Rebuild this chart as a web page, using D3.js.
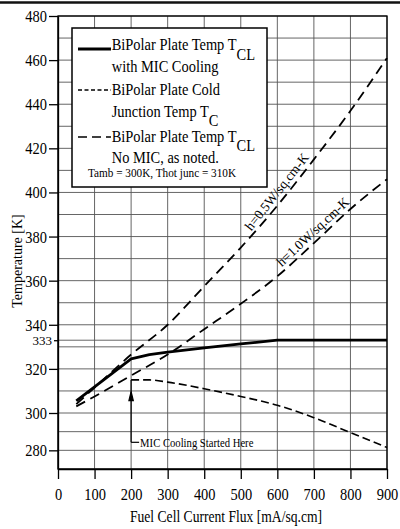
<!DOCTYPE html>
<html>
<head>
<meta charset="utf-8">
<script src="https://cdn.jsdelivr.net/npm/d3@7"></script>
<style>
  body { margin: 0; background: #fff; }
  svg, svg text { font-family: "Liberation Serif", "Times New Roman", serif; }
  svg { display: block; }
  .grid line { stroke: #555; stroke-width: 0.9; }
  .axis path, .axis line { stroke: #000; stroke-width: 1.3; }
  .axis text { fill: #000; }
</style>
</head>
<body>
<svg id="chart" width="400" height="529"></svg>
<script>
// data
var fluxWithMic = [50, 100, 150, 200, 250, 300, 400, 500, 600, 700, 800, 900];
var tclWithMic  = [305.5, 311.8, 318.2, 324.5, 326.5, 327.6, 329.5, 331.3, 333, 333, 333, 333];

var fluxCold = [200, 250, 300, 400, 500, 600, 700, 800, 900];
var tcCold   = [315, 315, 314, 311, 307.5, 303.5, 297.5, 289.5, 281.5];

var fluxNoMic = [50, 100, 200, 300, 400, 500, 600, 700, 800, 900];
var tclH05    = [304, 311.5, 326.5, 340, 357.5, 375, 394, 415, 437, 461];
var tclH10    = [303, 307.5, 317, 326.5, 338, 349.5, 362, 377, 392.5, 406];

var xTicks = [0, 100, 200, 300, 400, 500, 600, 700, 800, 900];
var yTicks = [280, 300, 320, 340, 360, 380, 400, 420, 440, 460, 480];
var yMarked = 333;

var legendText = [
    ["BiPolar Plate Temp T", "CL", "with MIC Cooling"],
    ["BiPolar Plate Cold", "", "Junction Temp T", "C"],
    ["BiPolar Plate Temp T", "CL", "No MIC, as noted."]
];
var legendNote = "Tamb = 300K, Thot junc = 310K";
var hLabels = ["h=0.5W/sq.cm-K", "h=1.0W/sq.cm-K"];
var hLabelFlux = [618, 714];
var annotText = "MIC Cooling Started Here";
var annotFlux = 200, annotTop = 315, annotArrow = 307, annotBottom = 284.3;

var FONT = "Liberation Serif, Times New Roman, serif";
var svg = d3.select("svg#chart");

var x = d3.scaleLinear().domain([0, 900]).range([58, 387]);
// the scanned axis is a little squeezed below 300 K
var y = d3.scaleLinear().domain([270, 300, 480]).range([469, 413, 16]);

var SX = 0.85;

// page border line at the top of the scan
svg.append("line")
    .attr("x1", 0).attr("x2", 400).attr("y1", 2.5).attr("y2", 2.5)
    .attr("stroke", "#111").attr("stroke-width", 2.5);

// grid
var grid = svg.append("g").attr("class", "grid");
grid.selectAll("line.h")
    .data(d3.range(270, 481, 10).concat([yMarked]))
    .enter().append("line")
    .attr("class", "h")
    .attr("x1", x(0)).attr("x2", x(900))
    .attr("y1", d => y(d)).attr("y2", d => y(d));
grid.selectAll("line.v")
    .data(xTicks)
    .enter().append("line")
    .attr("class", "v")
    .attr("x1", d => x(d)).attr("x2", d => x(d))
    .attr("y1", y(270)).attr("y2", y(480));

// frame
svg.append("rect")
    .attr("x", x(0)).attr("y", y(480))
    .attr("width", x(900) - x(0)).attr("height", y(270) - y(480))
    .attr("fill", "none").attr("stroke", "#000").attr("stroke-width", 1.3);

// axes
var xAxis = svg.append("g")
    .attr("class", "axis")
    .attr("transform", "translate(0," + y(270) + ")")
    .call(d3.axisBottom(x).tickValues(xTicks).tickSize(10).tickSizeOuter(0).tickPadding(9)
        .tickFormat(d3.format("d")));
xAxis.attr("font-family", FONT).attr("font-size", 17);
xAxis.selectAll("text")
    .attr("transform", "scale(" + SX + ",1)");

var yAxis = svg.append("g")
    .attr("class", "axis")
    .attr("transform", "translate(" + x(0) + ",0)")
    .call(d3.axisLeft(y).tickValues(yTicks).tickSize(9).tickSizeOuter(0)
        .tickFormat(d3.format("d")));
yAxis.attr("font-family", FONT).attr("font-size", 17);
yAxis.selectAll("text")
    .attr("x", -11 / SX)
    .attr("transform", "scale(" + SX + ",1)");

var yAxis2 = svg.append("g")
    .attr("class", "axis")
    .attr("transform", "translate(" + x(0) + ",0)")
    .call(d3.axisLeft(y).tickValues([yMarked]).tickSize(4).tickPadding(2)
        .tickFormat(d3.format("d")));
yAxis2.attr("font-family", FONT).attr("font-size", 13);
yAxis2.select("path").remove();

// axis titles
svg.append("text")
    .attr("transform", "translate(226,522) scale(" + SX + ",1)")
    .attr("text-anchor", "middle")
    .attr("font-size", 16)
    .text("Fuel Cell Current Flux [mA/sq.cm]");

svg.append("text")
    .attr("transform", "translate(22,261) rotate(-90)")
    .attr("text-anchor", "middle")
    .attr("font-size", 14)
    .text("Temperature [K]");

// curves
function pairs(xs, ys) {
    return xs.map((d, i) => [d, ys[i]]);
}
var lineLin = d3.line().x(d => x(d[0])).y(d => y(d[1]));
var lineSmooth = d3.line().x(d => x(d[0])).y(d => y(d[1])).curve(d3.curveMonotoneX);

var curves = svg.append("g").attr("fill", "none").attr("stroke", "#000");

curves.append("path")
    .attr("d", lineSmooth(pairs(fluxNoMic, tclH05)))
    .attr("stroke-width", 1.8)
    .attr("stroke-dasharray", "10,6");

curves.append("path")
    .attr("d", lineSmooth(pairs(fluxNoMic, tclH10)))
    .attr("stroke-width", 1.8)
    .attr("stroke-dasharray", "10,6");

curves.append("path")
    .attr("d", lineSmooth(pairs(fluxCold, tcCold)))
    .attr("stroke-width", 1.6)
    .attr("stroke-dasharray", "8,4");

curves.append("path")
    .attr("d", lineLin(pairs(fluxWithMic, tclWithMic)))
    .attr("stroke-width", 2.8)
    .attr("stroke-linejoin", "round");

// rotated h labels sit just above their curve, angle taken from the curve
var hSeries = [tclH05, tclH10];
hLabels.forEach(function (lab, i) {
    var f = hLabelFlux[i];
    var ys = hSeries[i];
    var t = d3.scaleLinear().domain(fluxNoMic).range(ys)(f);
    var k = d3.bisectRight(fluxNoMic, f);
    var a = fluxNoMic[k - 1], b = fluxNoMic[k];
    var ang = Math.atan2(y(ys[k]) - y(ys[k - 1]), x(b) - x(a)) * 180 / Math.PI;
    svg.append("text")
        .attr("transform", "translate(" + x(f) + "," + y(t) + ") rotate(" + ang + ")")
        .attr("text-anchor", "middle")
        .attr("dy", -4.5)
        .attr("font-size", 13.5)
        .text(lab);
});

// annotation
var ax = x(annotFlux);
var ann = svg.append("g").attr("stroke", "#000").attr("stroke-width", 1.2);
ann.append("line")
    .attr("x1", ax).attr("x2", ax)
    .attr("y1", y(annotBottom)).attr("y2", y(annotTop));
ann.append("line")
    .attr("x1", ax).attr("x2", ax + 8)
    .attr("y1", y(annotBottom)).attr("y2", y(annotBottom));
ann.append("path")
    .attr("d", "M" + ax + "," + (y(annotArrow) - 6) + "l-2.2,9h4.4z")
    .attr("fill", "#000");
svg.append("text")
    .attr("transform", "translate(" + (ax + 9) + "," + (y(annotBottom) + 4.5) + ") scale(0.82,1)")
    .attr("font-size", 13)
    .text(annotText);

// legend
var lg = svg.append("g");
lg.append("rect")
    .attr("x", 72).attr("y", 28).attr("width", 195).attr("height", 159)
    .attr("fill", "#fff").attr("stroke", "#000").attr("stroke-width", 1.5);

var sampleY = [49, 90, 137];
var sampleStyle = [
    { w: 2.8, dash: null },
    { w: 1.3, dash: "4,2.5" },
    { w: 1.6, dash: "9,5" }
];
var textY = [[50, 71.7], [95, 116.7], [141.7, 163]];

legendText.forEach(function (item, i) {
    lg.append("line")
        .attr("x1", 78).attr("x2", 111)
        .attr("y1", sampleY[i]).attr("y2", sampleY[i])
        .attr("stroke", "#000")
        .attr("stroke-width", sampleStyle[i].w)
        .attr("stroke-dasharray", sampleStyle[i].dash);

    var t1 = lg.append("text")
        .attr("transform", "translate(111.7," + textY[i][0] + ") scale(" + SX + ",1)")
        .attr("font-size", 17)
        .text(item[0]);
    if (item[1])
        t1.append("tspan").attr("dy", 9.5).text(item[1]);

    var t2 = lg.append("text")
        .attr("transform", "translate(111.7," + textY[i][1] + ") scale(" + SX + ",1)")
        .attr("font-size", 17)
        .text(item[2]);
    if (item[3])
        t2.append("tspan").attr("dy", 9.5).text(item[3]);
});

lg.append("text")
    .attr("transform", "translate(88,176.7) scale(0.9,1)")
    .attr("font-size", 12.5)
    .text(legendNote);
</script>
</body>
</html>
